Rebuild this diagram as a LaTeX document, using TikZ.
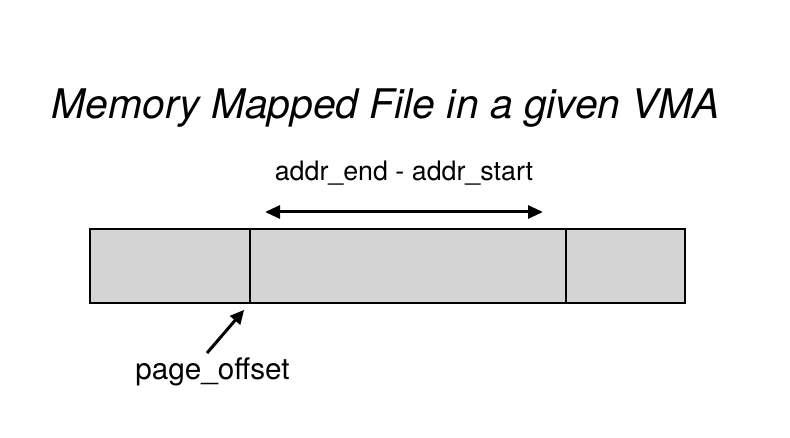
\documentclass[tikz,border=0pt]{standalone}
\usepackage{fontspec}
\setmainfont{TeX Gyre Heros}
\usetikzlibrary{calc, positioning, arrows.meta}
\definecolor{cellgray}{HTML}{D4D4D4}

\begin{document}
\begin{tikzpicture}[x=1pt, y=-1pt]
% Define height of the mapping bar
\def\h{74}
\tikzset{
    cell/.style={draw, line width=2.2pt, fill=cellgray, minimum height=\h pt, inner sep=0, outer sep=0, anchor=north west},
    pointer/.style={-{Triangle[length=14pt, width=13pt]}, line width=3pt},
}
\useasboundingbox (0,0) rectangle (790,438);

% Title
\node[anchor=base, inner sep=0] (title) at (386,119) {\fontsize{40.8}{48}\selectfont\itshape Memory Mapped File in a given VMA};

% Mapping bar
\node[cell, minimum width=160pt] (seg1) at (90,229) {};
\node[cell, minimum width=316pt] (seg2) at (seg1.north east) {};
\node[cell, minimum width=119pt] (seg3) at (seg2.north east) {};

% Length of mapping
\node[anchor=base, inner sep=0] (len) at (404,181) {\fontsize{26.8}{32}\selectfont addr\_end - addr\_start};
\coordinate (len-lo) at (265,212);
\coordinate (len-hi) at (543,212);
\draw[{Triangle[length=15pt, width=13pt]}-{Triangle[length=15pt, width=13pt]}, line width=3pt] (len-lo) -- (len-hi);

% Offset into page
\node[anchor=base, inner sep=0] (pgoff) at (212.5,380) {\fontsize{29.7}{36}\selectfont page\_offset};
\draw[pointer, shorten >=9pt] ($(pgoff.north)+(-5.5,-5)$) -- (seg2.south west);
\end{tikzpicture}
\end{document}
